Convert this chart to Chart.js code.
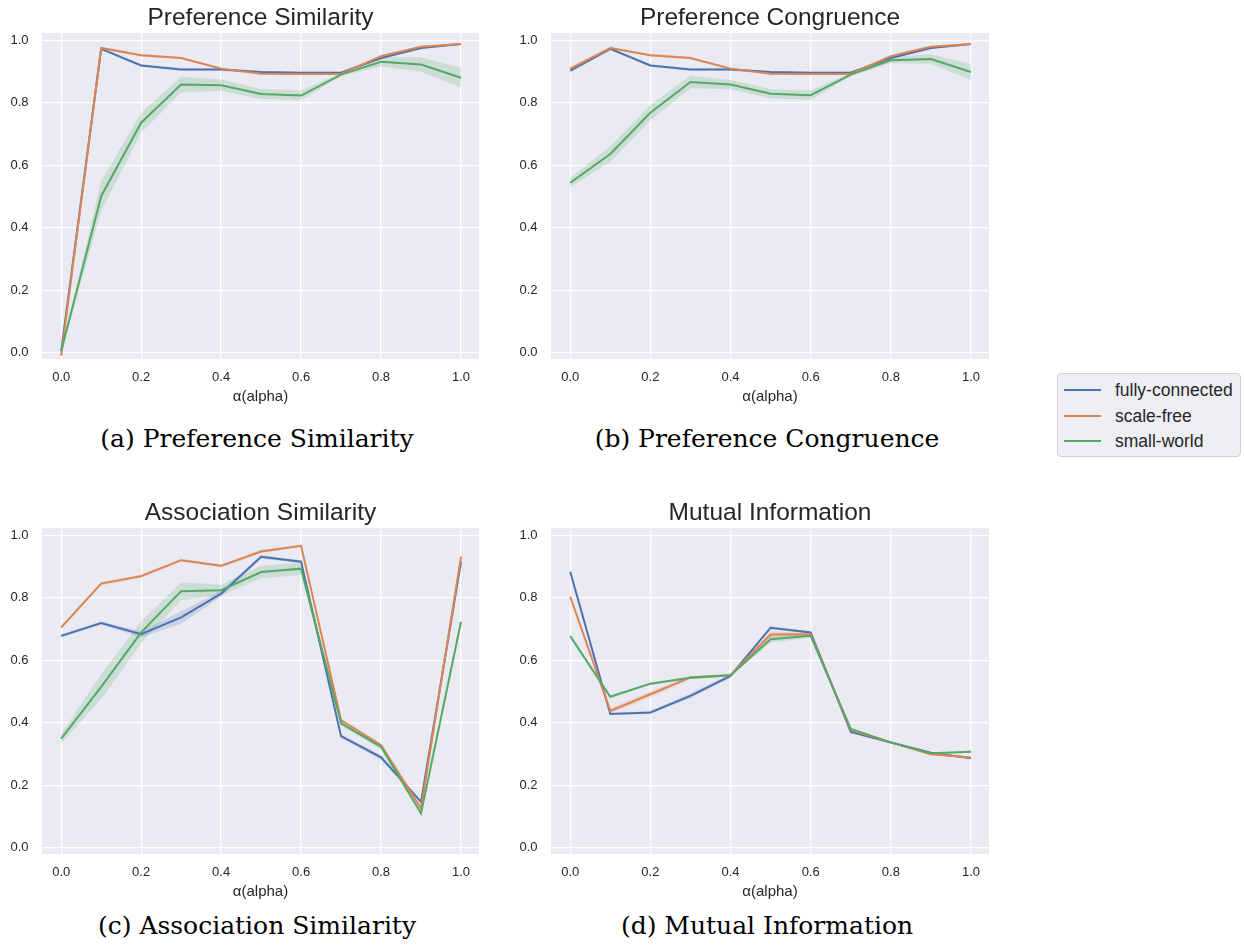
<!DOCTYPE html>
<html>
<head>
<meta charset="utf-8">
<script src="https://cdn.jsdelivr.net/npm/chart.js@4.4.1/dist/chart.umd.min.js"></script>
<style>
  body { margin:0; background:#fff; width:1244px; height:949px; position:relative; overflow:hidden; }
  canvas { position:absolute; }
  .cap { position:absolute; width:500px; height:30px; line-height:30px; text-align:center;
         font-family:"DejaVu Serif", serif; font-size:25px; color:#000; white-space:nowrap; }
  #legend { position:absolute; left:1057px; top:373px; width:184px; height:84px; box-sizing:border-box;
            background:#eeeef5; border:1px solid #d0d0d6; border-radius:4px;
            font-family:"Liberation Sans", Arial, sans-serif; font-size:17.5px; color:#262626; }
  .row { position:absolute; left:0; height:26px; line-height:26px; }
  .row span.ln { position:absolute; left:6px; top:12px; width:37px; height:2px; }
  .row span.tx { position:absolute; left:57px; top:0; white-space:nowrap; }
</style>
</head>
<body>
<canvas id="chartPS" width="490" height="410" style="left:0px;top:0px"></canvas>
<canvas id="chartPC" width="500" height="410" style="left:500px;top:0px"></canvas>
<canvas id="chartAS" width="490" height="410" style="left:0px;top:495px"></canvas>
<canvas id="chartMI" width="500" height="410" style="left:500px;top:495px"></canvas>
<div class="cap" style="left:7px;top:424px">(a) Preference Similarity</div>
<div class="cap" style="left:517px;top:424px">(b) Preference Congruence</div>
<div class="cap" style="left:7px;top:911px">(c) Association Similarity</div>
<div class="cap" style="left:517px;top:911px">(d) Mutual Information</div>
<div id="legend"></div>
<script>
const alphaVals = [0.0, 0.1, 0.2, 0.3, 0.4, 0.5, 0.6, 0.7, 0.8, 0.9, 1.0];
const xTickVals = [0.0, 0.2, 0.4, 0.6, 0.8, 1.0];
const yTickVals = [0.0, 0.2, 0.4, 0.6, 0.8, 1.0];
const seriesNames = ['fully-connected', 'scale-free', 'small-world'];
const seriesColors = ['#4C72B0', '#DD8452', '#55A868'];
const bandColors = ['rgba(76,114,176,0.2)', 'rgba(221,132,82,0.2)', 'rgba(85,168,104,0.2)'];

// (a) Preference Similarity
const psFull  = [0.005, 0.972, 0.919, 0.906, 0.906, 0.898, 0.896, 0.896, 0.943, 0.975, 0.988];
const psScale = [-0.009, 0.975, 0.952, 0.943, 0.909, 0.893, 0.892, 0.892, 0.949, 0.979, 0.988];
const psSmall = [0.005, 0.501, 0.736, 0.858, 0.856, 0.828, 0.823, 0.890, 0.931, 0.922, 0.880];
const psFullErr  = [0.003, 0.003, 0.004, 0.004, 0.004, 0.003, 0.003, 0.003, 0.004, 0.003, 0.002];
const psScaleErr = [0.003, 0.003, 0.004, 0.004, 0.004, 0.003, 0.003, 0.003, 0.004, 0.003, 0.002];
const psSmallErr = [0.005, 0.048, 0.032, 0.025, 0.018, 0.016, 0.016, 0.005, 0.015, 0.023, 0.032];

// (b) Preference Congruence
const pcFull  = [0.903, 0.972, 0.919, 0.906, 0.906, 0.898, 0.896, 0.896, 0.943, 0.975, 0.988];
const pcScale = [0.908, 0.975, 0.952, 0.943, 0.909, 0.893, 0.892, 0.892, 0.949, 0.979, 0.988];
const pcSmall = [0.544, 0.636, 0.768, 0.866, 0.858, 0.829, 0.824, 0.890, 0.936, 0.940, 0.898];
const pcFullErr  = [0.008, 0.003, 0.004, 0.004, 0.004, 0.003, 0.003, 0.003, 0.004, 0.003, 0.002];
const pcScaleErr = [0.008, 0.003, 0.004, 0.004, 0.004, 0.003, 0.003, 0.003, 0.004, 0.003, 0.002];
const pcSmallErr = [0.015, 0.025, 0.025, 0.020, 0.015, 0.015, 0.015, 0.005, 0.010, 0.015, 0.025];

// (c) Association Similarity
const asFull  = [0.678, 0.719, 0.683, 0.737, 0.813, 0.931, 0.915, 0.357, 0.289, 0.147, 0.915];
const asScale = [0.705, 0.845, 0.869, 0.920, 0.902, 0.948, 0.966, 0.408, 0.328, 0.126, 0.931];
const asSmall = [0.349, 0.515, 0.689, 0.821, 0.824, 0.882, 0.893, 0.398, 0.323, 0.110, 0.723];
const asFullErr  = [0.005, 0.005, 0.010, 0.020, 0.010, 0.006, 0.005, 0.006, 0.008, 0.005, 0.005];
const asScaleErr = [0.005, 0.006, 0.006, 0.005, 0.005, 0.006, 0.004, 0.006, 0.006, 0.005, 0.005];
const asSmallErr = [0.015, 0.040, 0.035, 0.028, 0.018, 0.020, 0.020, 0.008, 0.008, 0.005, 0.010];

// (d) Mutual Information
const miFull  = [0.883, 0.428, 0.433, 0.486, 0.550, 0.704, 0.689, 0.371, 0.337, 0.304, 0.286];
const miScale = [0.803, 0.438, 0.491, 0.545, 0.552, 0.682, 0.683, 0.376, 0.337, 0.299, 0.289];
const miSmall = [0.677, 0.483, 0.525, 0.544, 0.552, 0.667, 0.678, 0.380, 0.337, 0.302, 0.307];
const miFullErr  = [0.003, 0.004, 0.004, 0.008, 0.006, 0.005, 0.004, 0.004, 0.003, 0.003, 0.003];
const miScaleErr = [0.003, 0.008, 0.010, 0.005, 0.004, 0.010, 0.005, 0.004, 0.003, 0.003, 0.003];
const miSmallErr = [0.003, 0.005, 0.004, 0.004, 0.004, 0.010, 0.006, 0.004, 0.003, 0.003, 0.003];

const textColor = '#262626';

// gris de fondo del area de trazado (estilo darkgrid)
const bgPlugin = {
  id: 'plotBg',
  beforeDraw(chart) {
    const {ctx, chartArea: a} = chart;
    ctx.save();
    ctx.fillStyle = '#EAEAF2';
    ctx.fillRect(a.left, a.top, a.right - a.left, a.bottom - a.top);
    ctx.restore();
  }
};

function pts(vals) {
  return alphaVals.map((x, i) => ({x: x, y: vals[i]}));
}

function makeChart(canvasId, title, yAxisWidth, means, errs) {
  const datasets = [];
  // bandas primero (debajo), luego lineas
  means.forEach((m, s) => {
    const hi = m.map((v, i) => v + errs[s][i]);
    const lo = m.map((v, i) => v - errs[s][i]);
    const hiIdx = datasets.length;
    datasets.push({data: pts(hi), borderWidth: 0, pointRadius: 0, fill: false, order: 10 + s});
    datasets.push({data: pts(lo), borderWidth: 0, pointRadius: 0, backgroundColor: bandColors[s],
                   fill: {target: hiIdx}, order: 10 + s});
  });
  means.forEach((m, s) => {
    datasets.push({label: seriesNames[s], data: pts(m), borderColor: seriesColors[s],
                   borderWidth: 2, pointRadius: 0, fill: false, tension: 0, order: 2 - s});
  });

  return new Chart(document.getElementById(canvasId), {
    type: 'line',
    data: {datasets: datasets},
    options: {
      responsive: false,
      animation: false,
      layout: {padding: {right: 11, left: 0, top: 0, bottom: 0}},
      plugins: {
        legend: {display: false},
        tooltip: {enabled: false},
        title: {
          display: true, text: title, fullSize: false, color: textColor,
          font: {family: '"Liberation Sans", Arial, sans-serif', size: 24.5, weight: 'normal', lineHeight: 1.2},
          padding: {top: 3.5, bottom: 0.1}
        }
      },
      scales: {
        x: {
          type: 'linear', min: -0.048, max: 1.045,
          afterBuildTicks: sc => { sc.ticks = xTickVals.map(v => ({value: v})); },
          afterFit: sc => { sc.height = 51; },
          grid: {color: '#ffffff', lineWidth: 1.3, drawTicks: false},
          border: {display: false},
          ticks: {padding: 11, color: textColor, maxRotation: 0,
                  font: {family: '"Liberation Sans", Arial, sans-serif', size: 13},
                  callback: v => Number(v).toFixed(1)},
          title: {display: true, text: 'α(alpha)', color: textColor, padding: {top: 0, bottom: 4.6},
                  font: {family: '"Liberation Sans", Arial, sans-serif', size: 15, lineHeight: 1.2}}
        },
        y: {
          min: -0.02, max: 1.023,
          afterBuildTicks: sc => { sc.ticks = yTickVals.map(v => ({value: v})); },
          afterFit: sc => { sc.width = yAxisWidth; },
          grid: {color: '#ffffff', lineWidth: 1.3, drawTicks: false},
          border: {display: false},
          ticks: {padding: 13.5, color: textColor,
                  font: {family: '"Liberation Sans", Arial, sans-serif', size: 13},
                  callback: v => Number(v).toFixed(1)}
        }
      }
    },
    plugins: [bgPlugin]
  });
}

makeChart('chartPS', 'Preference Similarity', 42, [psFull, psScale, psSmall], [psFullErr, psScaleErr, psSmallErr]);
makeChart('chartPC', 'Preference Congruence', 51, [pcFull, pcScale, pcSmall], [pcFullErr, pcScaleErr, pcSmallErr]);
makeChart('chartAS', 'Association Similarity', 42, [asFull, asScale, asSmall], [asFullErr, asScaleErr, asSmallErr]);
makeChart('chartMI', 'Mutual Information', 51, [miFull, miScale, miSmall], [miFullErr, miScaleErr, miSmallErr]);

// leyenda compartida
const legendBox = document.getElementById('legend');
seriesNames.forEach((name, i) => {
  const row = document.createElement('div');
  row.className = 'row';
  row.style.top = (3 + i * 25.5) + 'px';
  row.innerHTML = '<span class="ln" style="background:' + seriesColors[i] + '"></span><span class="tx">' + name + '</span>';
  legendBox.appendChild(row);
});
</script>
</body>
</html>
